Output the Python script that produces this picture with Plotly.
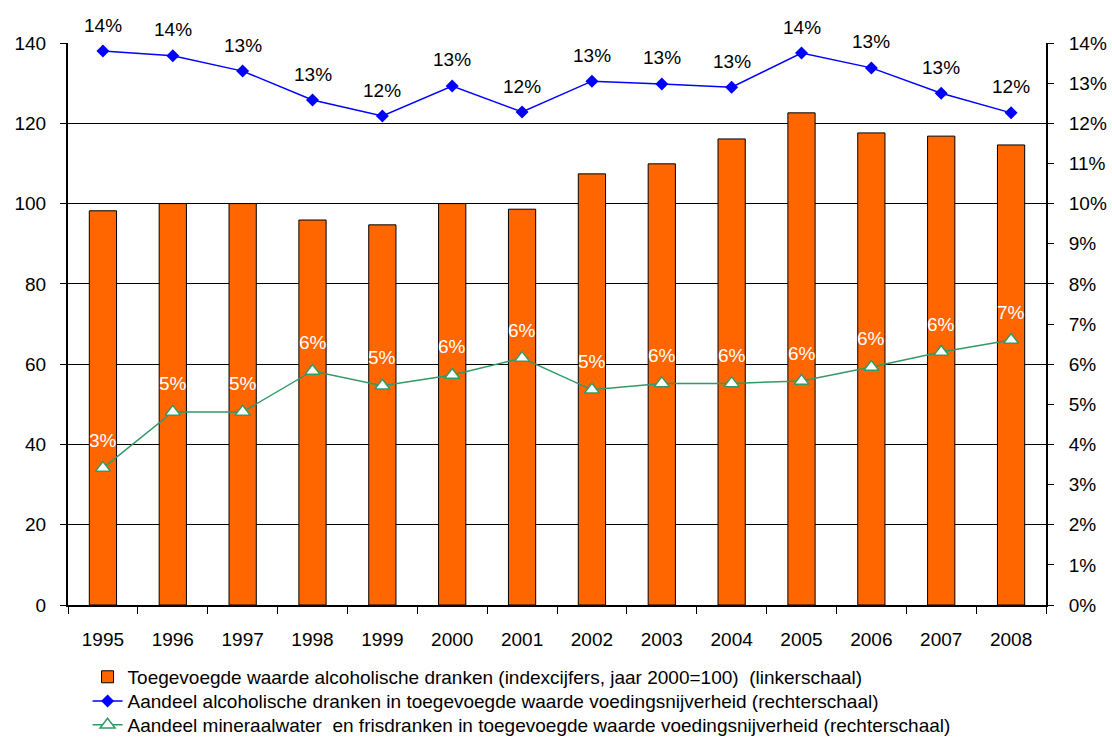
import plotly.graph_objects as go

years = ["1995", "1996", "1997", "1998", "1999", "2000", "2001",
         "2002", "2003", "2004", "2005", "2006", "2007", "2008"]
index_alcohol = [98.2, 100, 100, 95.9, 94.7, 100, 98.6,
                 107.4, 109.9, 116.1, 122.6, 117.6, 116.8, 114.6]
share_alcohol = [0.138, 0.1368, 0.133, 0.1258, 0.1218, 0.1293, 0.1228,
                 0.1305, 0.1298, 0.129, 0.1375, 0.1338, 0.1275, 0.1226]
share_water = [0.0341, 0.0481, 0.0481, 0.0583, 0.0546, 0.0573, 0.0615,
               0.0536, 0.0552, 0.0552, 0.0558, 0.0593, 0.063, 0.066]

names = [
    "Toegevoegde waarde alcoholische dranken (indexcijfers, jaar 2000=100)  (linkerschaal)",
    "Aandeel alcoholische dranken in toegevoegde waarde voedingsnijverheid (rechterschaal)",
    "Aandeel mineraalwater  en frisdranken in toegevoegde waarde voedingsnijverheid (rechterschaal)",
]

font_family = "Liberation Sans, Arial, sans-serif"

fig = go.Figure()

fig.add_trace(go.Bar(
    x=years,
    y=index_alcohol,
    name=names[0],
    marker=dict(color="#FF6600", line=dict(color="black", width=1)),
    yaxis="y",
    legend="legend",
    showlegend=True,
))

fig.add_trace(go.Scatter(
    x=years,
    y=share_alcohol,
    name=names[1],
    mode="lines+markers",
    line=dict(color="#0000FF", width=1.5),
    marker=dict(symbol="diamond", size=10, color="#0000FF"),
    yaxis="y2",
    legend="legend2",
    showlegend=True,
))

fig.add_trace(go.Scatter(
    x=years,
    y=share_water,
    name=names[2],
    mode="lines+markers",
    line=dict(color="#339966", width=1.5),
    marker=dict(symbol="triangle-up", size=13, color="white",
                line=dict(color="#339966", width=1.5)),
    yaxis="y2",
    legend="legend3",
    showlegend=True,
))

# data labels above the line markers (x given as category index)
for i, v in enumerate(share_alcohol):
    fig.add_annotation(x=i, y=v, xref="x", yref="y2", yshift=26, text=f"{v * 100:.0f}%",
                       showarrow=False, font=dict(size=19, color="black", family=font_family))
for i, v in enumerate(share_water):
    fig.add_annotation(x=i, y=v, xref="x", yref="y2", yshift=28, text=f"{v * 100:.0f}%",
                       showarrow=False, font=dict(size=19, color="white", family=font_family))

legend_style = dict(
    x=0.02, xanchor="left", yanchor="middle",
    font=dict(size=19, family=font_family),
    bgcolor="rgba(0,0,0,0)",
)

fig.update_layout(
    width=1112,
    height=738,
    showlegend=True,
    margin=dict(l=68, r=66, t=43, b=133, autoexpand=False),
    plot_bgcolor="white",
    paper_bgcolor="white",
    font=dict(family=font_family, size=19, color="black"),
    bargap=0.61,
    xaxis=dict(
        type="category",
        range=[-0.5, len(years) - 0.5],
        showline=True, linecolor="black", linewidth=1.5,
        ticks="outside", tickson="boundaries", ticklen=7, tickcolor="black",
        ticklabelstandoff=16,
        showgrid=False,
    ),
    yaxis=dict(
        range=[0, 140], dtick=20,
        showline=True, linecolor="black", linewidth=2,
        ticks="outside", ticklen=6, tickcolor="black",
        showgrid=True, gridcolor="black", gridwidth=1,
        zeroline=False,
        ticklabelstandoff=10,
    ),
    yaxis2=dict(
        range=[0, 0.14], dtick=0.01, tickformat=".0%",
        overlaying="y", side="right",
        showline=True, linecolor="black", linewidth=2,
        ticks="outside", ticklen=6, tickcolor="black",
        showgrid=False, zeroline=False,
        ticklabelstandoff=11,
    ),
    legend=dict(y=-0.128, **legend_style),
    legend2=dict(y=-0.171, **legend_style),
    legend3=dict(y=-0.2135, **legend_style),
)

fig.write_html("out.html", config={"displayModeBar": False},
               post_script="document.body.style.margin = '0';")
